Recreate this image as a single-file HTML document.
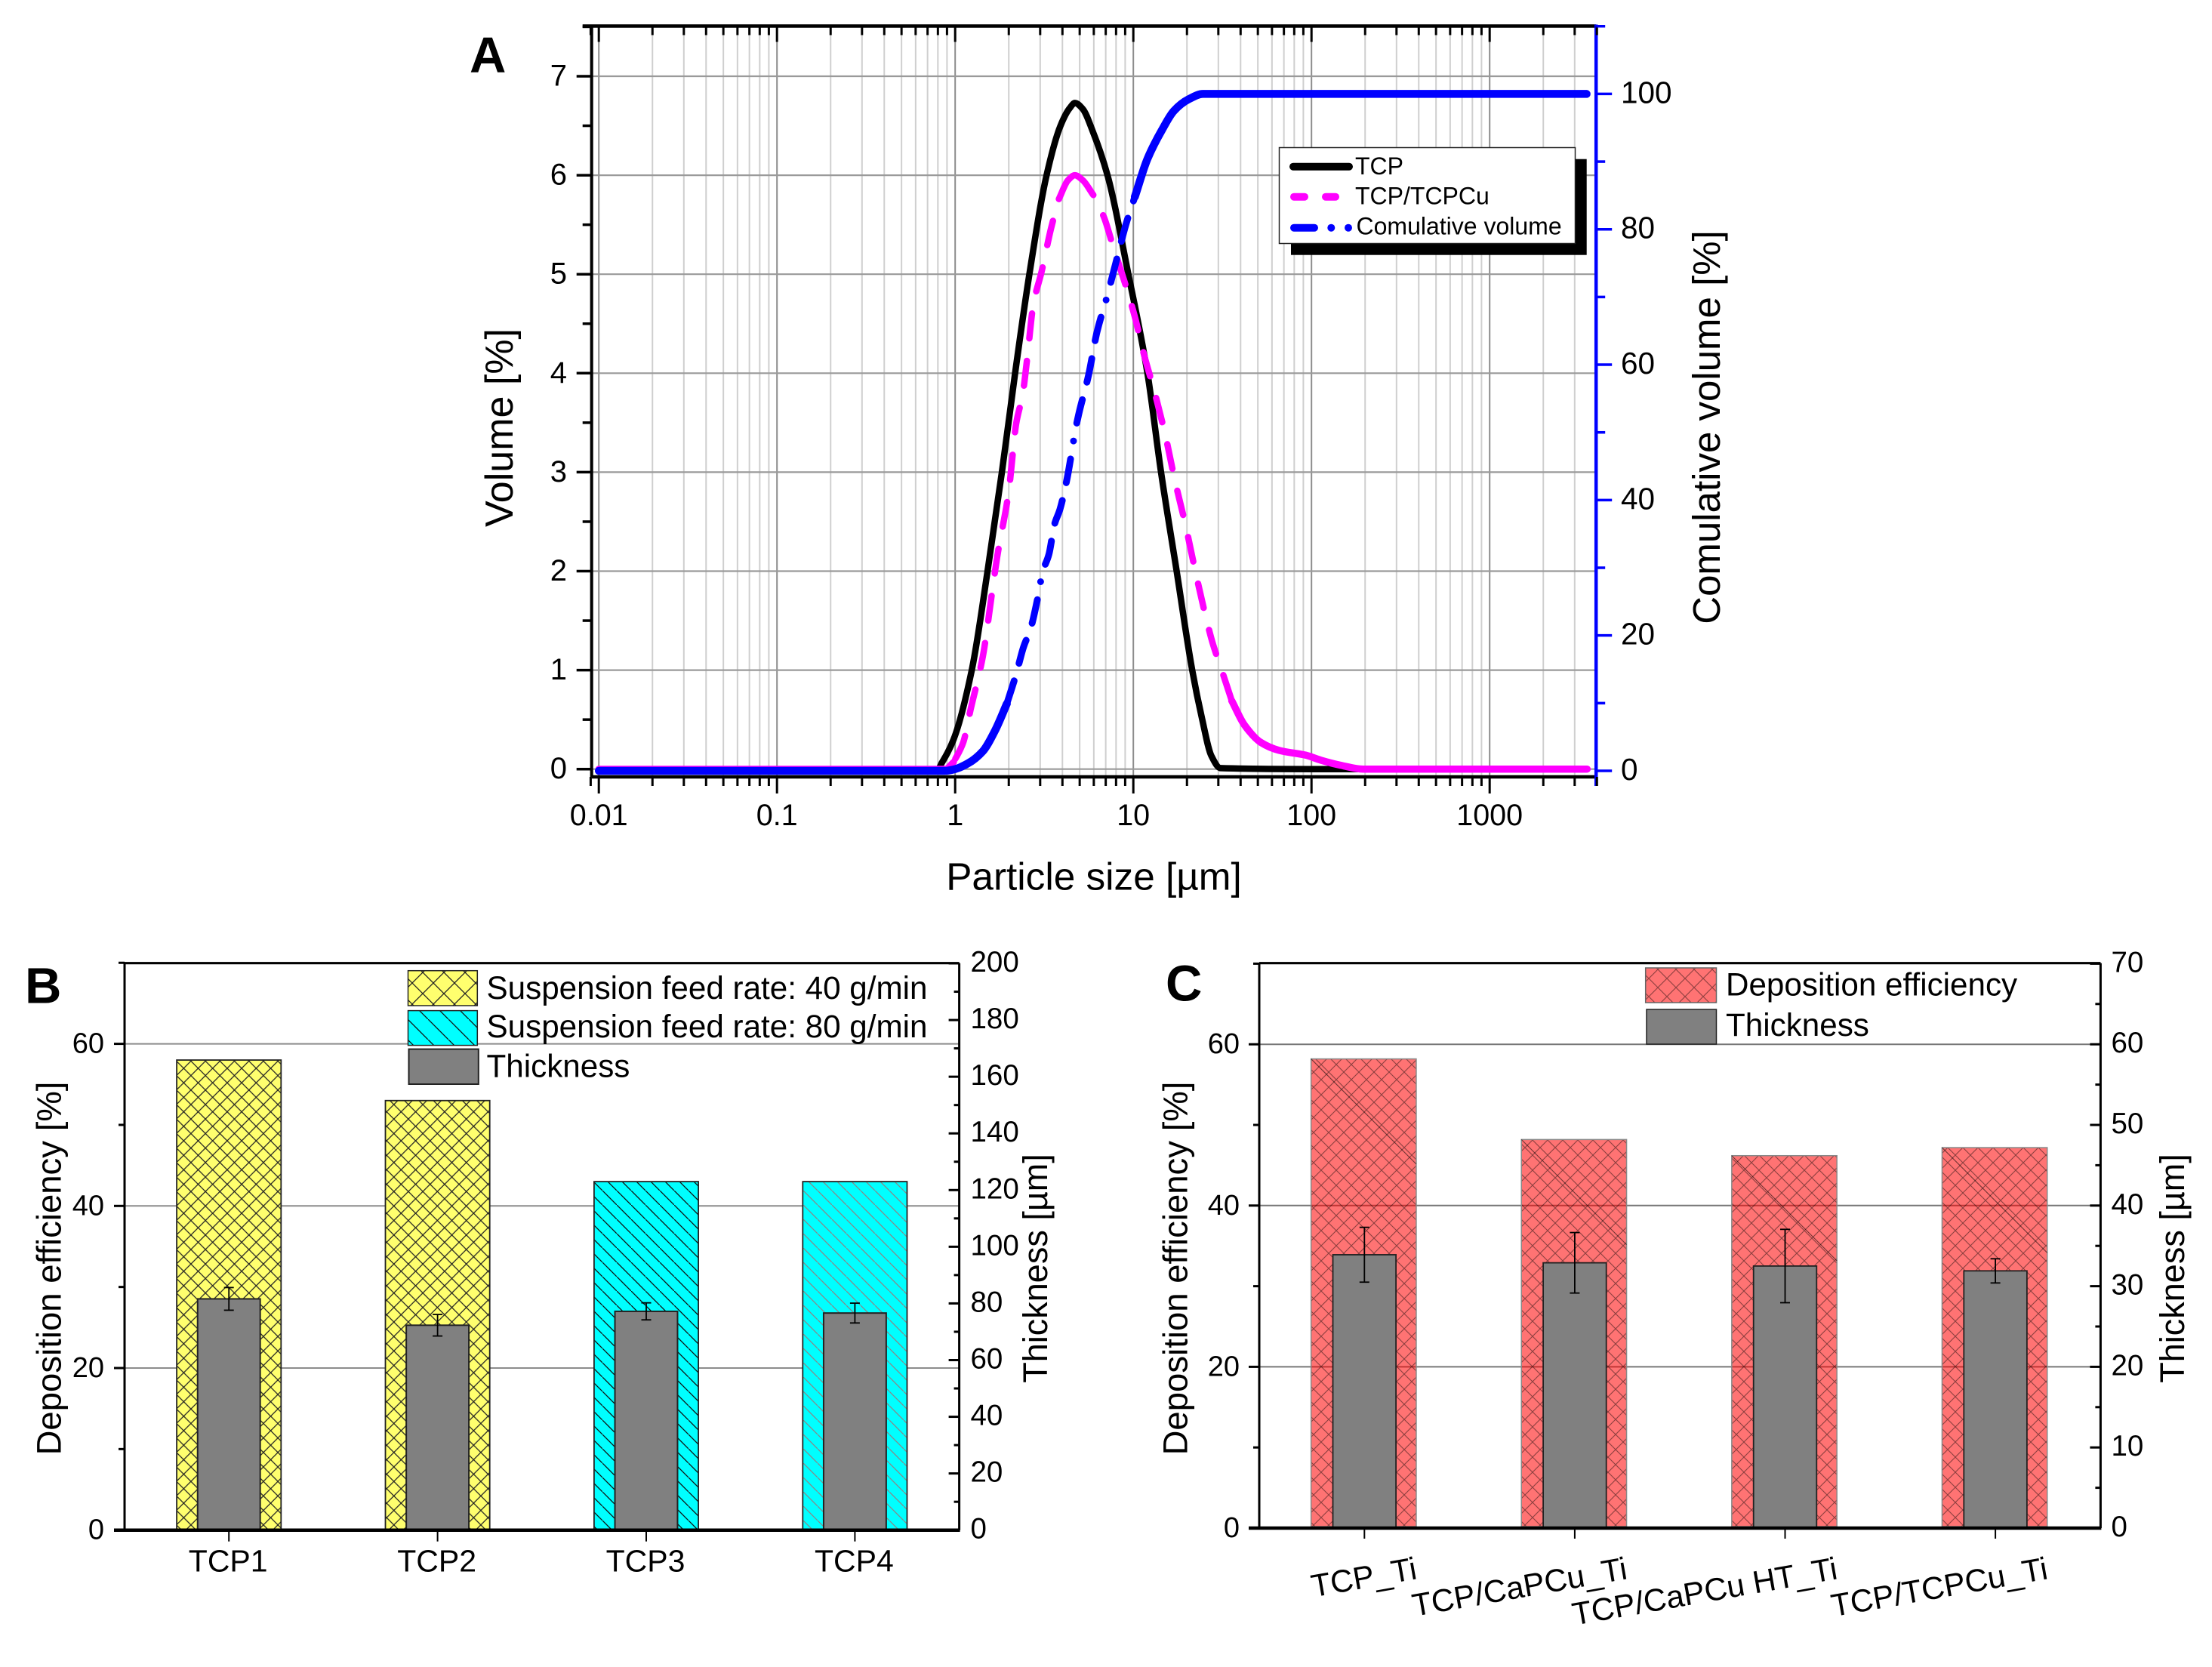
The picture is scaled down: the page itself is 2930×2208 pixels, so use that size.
<!DOCTYPE html>
<html>
<head>
<meta charset="utf-8">
<title>Particle size, deposition efficiency and thickness charts</title>
<style>
html,body{margin:0;padding:0;background:#fff;}
svg{display:block;}
text{font-family:"Liberation Sans",Arial,sans-serif;fill:#000;}
</style>
</head>
<body>
<svg id="figure" xmlns="http://www.w3.org/2000/svg" width="2930" height="2208" viewBox="0 0 2930 2208">
<defs>
  <pattern id="hatch-yellow" patternUnits="userSpaceOnUse" width="19.2" height="19.2" patternTransform="translate(243.3 1415)">
    <rect width="19.2" height="19.2" fill="#ffff6e"/>
    <path d="M-2 -2L21.2 21.2M21.2 -2L-2 21.2" stroke="#222" stroke-width="1.3" fill="none"/>
  </pattern>
  <pattern id="hatch-yellow-legend" patternUnits="userSpaceOnUse" width="28" height="28">
    <rect width="28" height="28" fill="#ffff6e"/>
    <path d="M-2 -2L30 30M30 -2L-2 30" stroke="#222" stroke-width="1.3" fill="none"/>
  </pattern>
  <pattern id="hatch-cyan-dark" patternUnits="userSpaceOnUse" width="19" height="19">
    <rect width="19" height="19" fill="#00ffff"/>
    <path d="M-2 -2L21 21" stroke="#111" stroke-width="1.3" fill="none"/>
  </pattern>
  <pattern id="hatch-cyan-gray" patternUnits="userSpaceOnUse" width="19" height="19">
    <rect width="19" height="19" fill="#00ffff"/>
    <path d="M-2 -2L21 21" stroke="#888" stroke-width="1.3" fill="none"/>
  </pattern>
  <pattern id="hatch-cyan-legend" patternUnits="userSpaceOnUse" width="27" height="27">
    <rect width="27" height="27" fill="#00ffff"/>
    <path d="M-2 -2L29 29" stroke="#111" stroke-width="1.3" fill="none"/>
  </pattern>
  <pattern id="hatch-red" patternUnits="userSpaceOnUse" width="20" height="20">
    <rect width="20" height="20" fill="#ff0000" fill-opacity="0.55"/>
    <path d="M-2 -2L22 22M22 -2L-2 22" stroke="#000" stroke-opacity="0.45" stroke-width="1.1" fill="none"/>
  </pattern>
  <pattern id="hatch-red-legend" patternUnits="userSpaceOnUse" width="24" height="24">
    <rect width="24" height="24" fill="#ff0000" fill-opacity="0.55"/>
    <path d="M-2 -2L26 26M26 -2L-2 26" stroke="#000" stroke-opacity="0.45" stroke-width="1.1" fill="none"/>
  </pattern>
</defs>

<!-- PANEL A -->
<g id="panel-a">
  <g id="a-grid"></g>
  <g id="a-series"></g>
  <g id="a-axes"></g>
  <g id="a-legend">
    <rect x="1710" y="210.7" width="391.7" height="127" fill="#000"/>
    <rect x="1694.5" y="195.5" width="392" height="127" fill="#fff" stroke="#222" stroke-width="1.5"/>
    <line x1="1713" y1="220.7" x2="1787" y2="220.7" stroke="#000" stroke-width="10" stroke-linecap="round"/>
    <line x1="1714" y1="260.7" x2="1728" y2="260.7" stroke="#ff00ff" stroke-width="10" stroke-linecap="round"/>
    <line x1="1756" y1="260.7" x2="1769" y2="260.7" stroke="#ff00ff" stroke-width="10" stroke-linecap="round"/>
    <line x1="1714" y1="301.7" x2="1741" y2="301.7" stroke="#0000ff" stroke-width="10" stroke-linecap="round"/>
    <circle cx="1763.3" cy="301.7" r="5" fill="#0000ff"/>
    <circle cx="1786" cy="301.7" r="5" fill="#0000ff"/>
    <text x="1795" y="231" font-size="32">TCP</text>
    <text x="1795" y="270.7" font-size="32">TCP/TCPCu</text>
    <text x="1796.5" y="310.7" font-size="32">Comulative volume</text>
  </g>
  <text x="622" y="96" font-size="67" font-weight="bold">A</text>
  <text x="1449" y="1178.5" font-size="51.3" text-anchor="middle">Particle size [µm]</text>
  <text transform="translate(679 566.5) rotate(-90)" font-size="52" text-anchor="middle">Volume [%]</text>
  <text transform="translate(2278 566) rotate(-90)" font-size="51" text-anchor="middle">Comulative volume [%]</text>
</g>

<!-- PANEL B -->
<g id="panel-b">
  <g id="b-grid"></g>
  <g id="b-bars"></g>
  <g id="b-axes"></g>
  <g id="b-legend">
    <rect x="540.5" y="1285.7" width="91.8" height="46.3" fill="url(#hatch-yellow-legend)" stroke="#222" stroke-width="1.5"/>
    <rect x="540.5" y="1338.6" width="91.8" height="46" fill="url(#hatch-cyan-legend)" stroke="#222" stroke-width="1.5"/>
    <rect x="541.5" y="1389.6" width="92.3" height="46.4" fill="#808080" stroke="#222" stroke-width="2"/>
    <text x="644.5" y="1322.9" font-size="42.2">Suspension feed rate: 40 g/min</text>
    <text x="644.5" y="1374" font-size="42.2">Suspension feed rate: 80 g/min</text>
    <text x="644.5" y="1426.4" font-size="42.2">Thickness</text>
  </g>
  <text x="33" y="1328.5" font-size="67" font-weight="bold">B</text>
  <text transform="translate(80.5 1680) rotate(-90)" font-size="45.5" text-anchor="middle">Deposition efficiency [%]</text>
  <text transform="translate(1387 1680) rotate(-90)" font-size="45" text-anchor="middle">Thickness [µm]</text>
</g>

<!-- PANEL C -->
<g id="panel-c">
  <g id="c-grid"></g>
  <g id="c-bars"></g>
  <g id="c-axes"></g>
  <g id="c-legend">
    <rect x="2179.7" y="1282" width="93.8" height="46" fill="url(#hatch-red-legend)" stroke="#666" stroke-width="1.5"/>
    <rect x="2181" y="1337" width="92.5" height="46" fill="#808080" stroke="#222" stroke-width="1.5"/>
    <text x="2286" y="1318.6" font-size="42.2">Deposition efficiency</text>
    <text x="2286" y="1372" font-size="42.2">Thickness</text>
  </g>
  <text x="1544" y="1325.5" font-size="67" font-weight="bold">C</text>
  <text transform="translate(1572.5 1680) rotate(-90)" font-size="45.5" text-anchor="middle">Deposition efficiency [%]</text>
  <text transform="translate(2893 1680) rotate(-90)" font-size="45" text-anchor="middle">Thickness [µm]</text>
</g>
</svg>

<script>
// ---------- Panel A data ----------
const sizeTCP = [0.01,0.1,0.8,0.84,0.98,1.24,1.52,1.83,2.17,2.61,3.26,3.9,4.4,4.7,5.2,5.9,7.16,9.38,12,14.3,17.5,21.4,24.3,27.4,30.9,100,200];
const volumeTCP = [0,0,0,0.06,0.3,1,2,3,4,5,6,6.5,6.68,6.73,6.67,6.45,6,5,4,3,2,1,0.51,0.135,0.01,0,0];
const sizeMix = [0.01,0.1,0.88,0.98,1.11,1.22,1.43,1.61,1.72,2,2.2,2.4,2.53,2.75,3.05,3.45,3.82,4.3,4.7,5.2,5.96,6.86,7.76,8.97,10.2,11.4,13.2,15.1,17.1,19.6,22.1,24.8,27.8,31.6,35.7,41.9,51.9,65.6,92.9,113,145,195,1000,3524];
const volumeMix = [0,0,0,0.07,0.27,0.6,1.14,1.78,2.14,2.81,3.49,3.8,4.13,4.7,5.02,5.46,5.76,5.95,6,5.95,5.8,5.57,5.26,4.91,4.57,4.21,3.8,3.38,2.92,2.47,2.03,1.63,1.28,0.98,0.69,0.45,0.27,0.19,0.14,0.09,0.04,0,0,0];
const sizeCum = [0.01,0.1,0.87,0.98,1.18,1.43,1.67,1.95,2.2,2.42,2.65,2.92,3.09,3.36,3.61,3.87,4.25,4.7,4.87,5.6,6.25,7.16,8.13,9.06,10.2,12,14.5,16.9,20.4,24.6,100,1000,3500];
const cumulativeVolume = [0,0,0,0.2,1.1,2.9,5.9,9.9,14.3,18.3,21,25.8,29.3,32,36.4,38.6,43.2,49.9,52,58.4,64.8,70.3,75.9,80.6,84.8,90.4,94.7,97.5,99.2,100,100,100,100];
const xTickLabelsA = ["0.01","0.1","1","10","100","1000"];
const xTickValuesA = [0.01,0.1,1,10,100,1000];
const leftTicksA = [0,1,2,3,4,5,6,7];
const leftMinorTicksA = [0.5,1.5,2.5,3.5,4.5,5.5,6.5,7.5];
const rightTicksA = [0,20,40,60,80,100];
const rightMinorTicksA = [10,30,50,70,90,110];

// ---------- Panel B data ----------
const categoriesB = ["TCP1","TCP2","TCP3","TCP4"];
const efficiencyB = [58,53,43,43];
const thicknessB = [81.6,72.3,77.2,76.6];
const thicknessErrB = [4,3.8,3,3.5];
const leftTicksB = [0,20,40,60];
const leftMinorTicksB = [10,30,50,70];
const rightTicksB = [0,20,40,60,80,100,120,140,160,180,200];
const rightMinorTicksB = [10,30,50,70,90,110,130,150,170,190];

// ---------- Panel C data ----------
const categoriesC = ["TCP_Ti","TCP/CaPCu_Ti","TCP/CaPCu HT_Ti","TCP/TCPCu_Ti"];
const efficiencyC = [58,48,46,47];
const thicknessC = [33.9,32.9,32.5,31.9];
const thicknessErrC = [3.4,3.75,4.55,1.5];
const leftTicksC = [0,20,40,60];
const leftMinorTicksC = [10,30,50,70];
const rightTicksC = [0,10,20,30,40,50,60,70];
const rightMinorTicksC = [5,15,25,35,45,55,65];

const NS = "http://www.w3.org/2000/svg";
function mark(parent, tag, attrs, name, text) {
  const el = document.createElementNS(NS, tag);
  for (const k in attrs) el.setAttribute(k, attrs[k]);
  
  
  if (text !== undefined) el.textContent = text;
  parent.appendChild(el);
  return el;
}
function ln(parent, x1, y1, x2, y2, color, w, name) {
  return mark(parent, 'line', {x1:x1, y1:y1, x2:x2, y2:y2, stroke:color, 'stroke-width':w}, name);
}
const $ = id => document.getElementById(id);

// Monotone cubic path through pixel points (no overshoot beyond the data)
function smoothPath(pts) {
  const n = pts.length;
  if (n < 2) return '';
  const h = [], s = [], m = [];
  for (let i = 0; i < n - 1; i++) {
    h.push(pts[i + 1][0] - pts[i][0]);
    s.push((pts[i + 1][1] - pts[i][1]) / h[i]);
  }
  m[0] = s[0];
  m[n - 1] = s[n - 2];
  for (let i = 1; i < n - 1; i++) {
    if (s[i - 1] * s[i] <= 0) { m[i] = 0; continue; }
    const h0 = Math.abs(h[i - 1]), h1 = Math.abs(h[i]);
    m[i] = 3 * (h0 + h1) / ((2 * h1 + h0) / s[i - 1] + (h1 + 2 * h0) / s[i]);
  }
  let d = 'M' + pts[0][0].toFixed(1) + ' ' + pts[0][1].toFixed(1);
  for (let i = 0; i < n - 1; i++) {
    const t = h[i] / 3;
    d += 'C' + (pts[i][0] + t).toFixed(1) + ' ' + (pts[i][1] + m[i] * t).toFixed(1) + ' ' +
         (pts[i + 1][0] - t).toFixed(1) + ' ' + (pts[i + 1][1] - m[i + 1] * t).toFixed(1) + ' ' +
         pts[i + 1][0].toFixed(1) + ' ' + pts[i + 1][1].toFixed(1);
  }
  return d;
}

// ---------- Panel A ----------
(function () {
  const xA = v => 793.2 + 236 * (Math.log10(v) + 2);
  const yL = v => 1018.7 - 131.1 * v;
  const yR = v => 1021 - 8.966 * v;
  const L = 783.7, R = 2114.2, T = 34.5, B = 1029;
  const grid = $('a-grid'), axes = $('a-axes'), series = $('a-series');

  const logTicks = [];
  for (let e = -3; e <= 3; e++) {
    for (let m = 1; m <= 9; m++) {
      const v = m * Math.pow(10, e);
      if (v >= 0.009 && v <= 4001) logTicks.push({v: v, major: m === 1});
    }
  }
  logTicks.forEach(t => {
    const x = xA(t.v);
    ln(grid, x, T, x, B, t.major ? '#8c8c8c' : '#cfcfcf', 2, t.major ? 'a-major-vertical-gridline' : 'a-minor-vertical-gridline');
  });
  leftTicksA.forEach(v => ln(grid, L, yL(v), R, yL(v), '#9a9a9a', 2.2, 'a-horizontal-gridline'));

  function path(xs, ys, xf, yf, from, to, reverse) {
    const pts = [];
    xs.forEach((x, i) => {
      if (x >= from && x <= to) pts.push([xf(x), yf(ys[i])]);
    });
    if (reverse) pts.reverse();
    return smoothPath(pts);
  }
  const common = {fill:'none', 'stroke-linejoin':'round', 'stroke-linecap':'round'};
  function line(d, color, w, dash, offset, name) {
    const a = Object.assign({d:d, stroke:color, 'stroke-width':w}, common);
    if (dash) a['stroke-dasharray'] = dash;
    if (offset) a['stroke-dashoffset'] = offset;
    mark(series, 'path', a, name);
  }
  line(path(sizeTCP, volumeTCP, xA, yL, 0, 1e9), '#000', 8.5, null, 0, 'series-tcp');
  line(path(sizeMix, volumeMix, xA, yL, 0, 0.98), '#ff00ff', 9, null, 0, 'series-tcp-tcpcu-solid-left');
  line(path(sizeMix, volumeMix, xA, yL, 0.98, 3.82, true), '#ff00ff', 8.5, '33 30', 33, 'series-tcp-tcpcu-dashed-rising');
  line(path(sizeMix, volumeMix, xA, yL, 3.82, 5.96), '#ff00ff', 8.5, null, 0, 'series-tcp-tcpcu-peak');
  line(path(sizeMix, volumeMix, xA, yL, 5.96, 35.7), '#ff00ff', 8.5, '33 30', 33, 'series-tcp-tcpcu-dashed-falling');
  line(path(sizeMix, volumeMix, xA, yL, 35.7, 1e9), '#ff00ff', 9.5, null, 0, 'series-tcp-tcpcu-solid-right');
  line(path(sizeCum, cumulativeVolume, xA, yR, 0, 1.95), '#0000ff', 10.5, null, 0, 'series-cumulative-solid-left');
  line(path(sizeCum, cumulativeVolume, xA, yR, 1.95, 10.2), '#0000ff', 9, '32 24 32 24 32 24 0 24', 0, 'series-cumulative-dashed');
  line(path(sizeCum, cumulativeVolume, xA, yR, 10.2, 1e9), '#0000ff', 10.5, null, 0, 'series-cumulative-solid-right');

  // axes
  ln(axes, L, B, R, B, '#000', 4.5, 'a-bottom-axis');
  ln(axes, L - 12, T, R, T, '#000', 4.5, 'a-top-axis');
  ln(axes, L, T, L, B, '#000', 4, 'a-left-axis');
  ln(axes, R, T - 2, R, B + 12, '#0000ff', 4.5, 'a-right-axis');
  logTicks.forEach(t => {
    const x = xA(t.v);
    ln(axes, x, B, x, B + (t.major ? 22 : 12), '#000', 3, 'a-bottom-tick');
    ln(axes, x, T, x, T + (t.major ? 21 : 12), '#000', 3, 'a-top-tick');
  });
  xTickValuesA.forEach((v, i) => {
    mark(axes, 'text', {x:xA(v), y:1093, 'font-size':39.5, 'text-anchor':'middle'}, 'a-x-tick-label', xTickLabelsA[i]);
  });
  leftTicksA.forEach(v => {
    ln(axes, L - 20, yL(v), L, yL(v), '#000', 3.5, 'a-left-major-tick');
    mark(axes, 'text', {x:751, y:yL(v) + 12.5, 'font-size':40, 'text-anchor':'end'}, 'a-left-tick-label', String(v));
  });
  leftMinorTicksA.forEach(v => ln(axes, L - 12, yL(v), L, yL(v), '#000', 3.5, 'a-left-minor-tick'));
  rightTicksA.forEach(v => {
    ln(axes, R, yR(v), R + 21, yR(v), '#0000ff', 3.5, 'a-right-major-tick');
    mark(axes, 'text', {x:2147, y:yR(v) + 12, 'font-size':40.5}, 'a-right-tick-label', String(v));
  });
  rightMinorTicksA.forEach(v => ln(axes, R, yR(v), R + 12, yR(v), '#0000ff', 3.5, 'a-right-minor-tick'));
})();

// ---------- Shared bar-panel renderer pieces ----------
function frame(axes, L, R, T, B, yLeft, yRight, lt, lm, rt, rm, leftLabelX, rightLabelX, rMajorFrom, rMinorFrom) {
  ln(axes, L, T, R, T, '#000', 3.2, 'top-axis');
  ln(axes, L, T, L, B, '#000', 3, 'left-axis');
  ln(axes, R, T, R, B, '#000', 3, 'right-axis');
  ln(axes, L - 14, B, R + 1, B, '#000', 4.5, 'bottom-axis');
  lt.forEach(v => {
    ln(axes, L - 14, yLeft(v), L, yLeft(v), '#000', 3, 'left-major-tick');
    mark(axes, 'text', {x:leftLabelX, y:yLeft(v) + 12, 'font-size':38, 'text-anchor':'end'}, 'left-tick-label', String(v));
  });
  lm.forEach(v => ln(axes, L - 8, yLeft(v), L, yLeft(v), '#000', 3, 'left-minor-tick'));
  rt.forEach(v => {
    ln(axes, rMajorFrom, yRight(v), R, yRight(v), '#000', 3, 'right-major-tick');
    mark(axes, 'text', {x:rightLabelX, y:yRight(v) + 11, 'font-size':38.5}, 'right-tick-label', String(v));
  });
  rm.forEach(v => ln(axes, rMinorFrom, yRight(v), R, yRight(v), '#000', 3, 'right-minor-tick'));
}
function errorBar(parent, cx, yTop, yBottom, name) {
  ln(parent, cx, yTop, cx, yBottom, '#000', 1.8, name);
  ln(parent, cx - 6.5, yTop, cx + 6.5, yTop, '#000', 1.8, name + '-cap-top');
  ln(parent, cx - 6.5, yBottom, cx + 6.5, yBottom, '#000', 1.8, name + '-cap-bottom');
}

// ---------- Panel B ----------
(function () {
  const L = 165, R = 1270.6, T = 1275.7, B = 2026.7;
  const step = (R - L) / categoriesB.length;
  const xC = i => L + step * (i + 0.5);
  const yLeft = v => B - 10.735 * v;
  const yRight = v => B - 3.7535 * v;
  const grid = $('b-grid'), bars = $('b-bars'), axes = $('b-axes');
  leftTicksB.slice(1).forEach(v => ln(grid, L, yLeft(v), R, yLeft(v), '#8c8c8c', 2, 'b-horizontal-gridline'));
  const hatch = i => i < 2 ? 'url(#hatch-yellow)' : (i === 2 ? 'url(#hatch-cyan-dark)' : 'url(#hatch-cyan-gray)');
  const wide = step * 0.5, narrow = step * 0.3;
  efficiencyB.forEach((v, i) => {
    mark(bars, 'rect', {x:xC(i) - wide / 2, y:yLeft(v), width:wide, height:B - yLeft(v), fill:hatch(i), stroke:'#222', 'stroke-width':1.8}, 'efficiency-bar-' + categoriesB[i].toLowerCase());
  });
  thicknessB.forEach((v, i) => {
    mark(bars, 'rect', {x:xC(i) - narrow / 2, y:yRight(v), width:narrow, height:B - yRight(v), fill:'#808080', stroke:'#222', 'stroke-width':2}, 'thickness-bar-' + categoriesB[i].toLowerCase());
    errorBar(bars, xC(i), yRight(v + thicknessErrB[i]), yRight(v - thicknessErrB[i]), 'thickness-error-bar-' + categoriesB[i].toLowerCase());
  });
  frame(axes, L, R, T, B, yLeft, yRight, leftTicksB, leftMinorTicksB, rightTicksB, rightMinorTicksB, 138, 1285.5, R - 14, R - 7);
  categoriesB.forEach((c, i) => {
    ln(axes, xC(i), B, xC(i), B + 15, '#000', 2, 'b-x-tick');
    mark(axes, 'text', {x:xC(i) - 1, y:2081.7, 'font-size':41, 'text-anchor':'middle'}, 'b-x-tick-label', c);
  });
})();

// ---------- Panel C ----------
(function () {
  const L = 1668, R = 2782.4, T = 1275.7, B = 2024;
  const step = (R - L) / categoriesC.length;
  const xC = i => L + step * (i + 0.5);
  const yLeft = v => B - 10.68 * v;
  const yRight = v => B - 10.68 * v;
  const barBase = v => yLeft(v) - 2;
  const grid = $('c-grid'), bars = $('c-bars'), axes = $('c-axes');
  leftTicksC.slice(1).forEach(v => ln(grid, L, yLeft(v), R, yLeft(v), '#777', 2, 'c-horizontal-gridline'));
  const wide = step * 0.5, narrow = step * 0.3;
  efficiencyC.forEach((v, i) => {
    const x = xC(i) - wide / 2 - 1, y = barBase(v);
    mark(bars, 'rect', {x:x, y:y, width:wide, height:barBase(0) - y, fill:'url(#hatch-red)', stroke:'#888', 'stroke-width':1.5}, 'efficiency-bar-' + (i + 1));
    ln(bars, x, y, x + wide, y + wide, 'rgba(0,0,0,0.55)', 1.1, 'efficiency-bar-diagonal-' + (i + 1));
  });
  thicknessC.forEach((v, i) => {
    mark(bars, 'rect', {x:xC(i) - narrow / 2, y:yRight(v), width:narrow, height:B - yRight(v), fill:'#808080', stroke:'#222', 'stroke-width':1.8}, 'thickness-bar-' + (i + 1));
    errorBar(bars, xC(i), yRight(v + thicknessErrC[i]), yRight(v - thicknessErrC[i]), 'thickness-error-bar-' + (i + 1));
  });
  frame(axes, L, R, T, B, yLeft, yRight, leftTicksC, leftMinorTicksC, rightTicksC, rightMinorTicksC, 1642, 2796.5, R - 14, R - 7);
  categoriesC.forEach((c, i) => {
    const tx = xC(i) + 71, ty = 2091;
    ln(axes, xC(i), B, xC(i), B + 14, '#000', 2, 'c-x-tick');
    mark(axes, 'text', {x:tx, y:ty, 'font-size':42, 'text-anchor':'end', transform:'rotate(-10 ' + tx + ' ' + ty + ')'}, 'c-x-tick-label', c);
  });
})();
</script>
</body>
</html>
